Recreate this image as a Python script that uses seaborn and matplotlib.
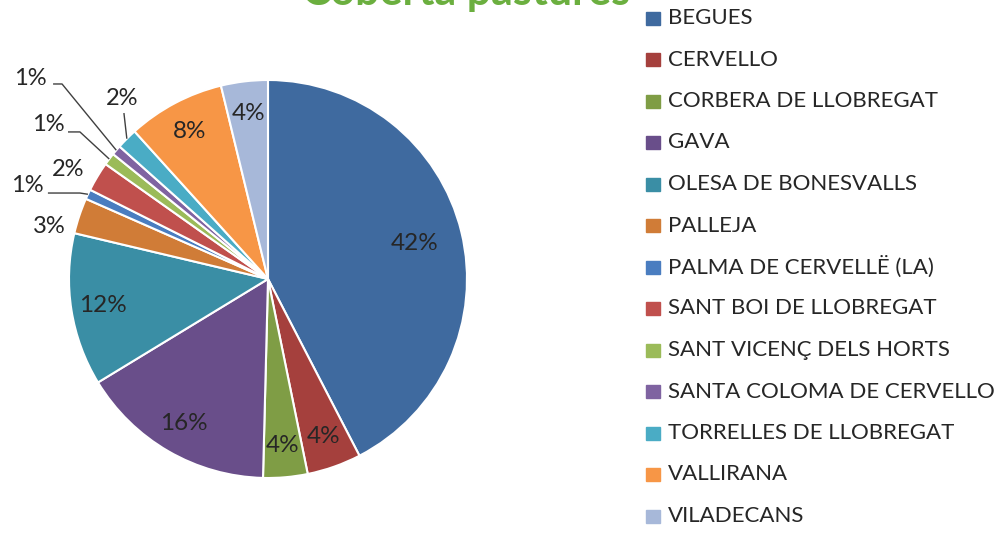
import numpy as np
import matplotlib
matplotlib.use("Agg")
import matplotlib.pyplot as plt
import seaborn as sns

sns.set_theme(style="white")
plt.rcParams['font.family'] = ['Lato', 'DejaVu Sans']

title = "Coberta pastures"
categories = ["BEGUES", "CERVELLO", "CORBERA DE LLOBREGAT", "GAVA", "OLESA DE BONESVALLS",
              "PALLEJA", "PALMA DE CERVELLË (LA)", "SANT BOI DE LLOBREGAT",
              "SANT VICENÇ DELS HORTS", "SANTA COLOMA DE CERVELLO",
              "TORRELLES DE LLOBREGAT", "VALLIRANA", "VILADECANS"]
values = [42.4, 4.4, 3.6, 15.9, 12.4, 2.9, 0.8, 2.4, 1.0, 0.8, 1.7, 7.9, 3.8]
colors = ["#3F6A9F", "#A5403D", "#7F9D45", "#694E8A", "#3A8EA5", "#D07C37", "#4A7DC0",
          "#C0504D", "#9BBB59", "#7F63A1", "#4AACC5", "#F79646", "#A7B8D9"]

# label placement (data coords of the unit pie) for small outside slices
outside = {
    5: dict(text=(-1.100, 0.266), line=None),
    6: dict(text=(-1.211, 0.472), line=[(-1.106, 0.432), (-0.945, 0.432)]),
    7: dict(text=(-1.005, 0.548), line=None),
    8: dict(text=(-1.106, 0.774), line=[(-1.005, 0.739), (-0.945, 0.739)]),
    9: dict(text=(-1.196, 1.010), line=[(-1.080, 0.980), (-1.035, 0.980)]),
    10: dict(text=(-0.734, 0.905), line=[(-0.724, 0.834)]),
}

W, H = 1003, 534
fig = plt.figure(figsize=(W / 100, H / 100), dpi=100)
cx, cy, R = 268, 279, 199
ax = fig.add_axes([(cx - R) / W, (H - cy - R) / H, 2 * R / W, 2 * R / H])

wedges, _ = ax.pie(values, colors=colors, startangle=90, counterclock=False,
                   wedgeprops=dict(edgecolor="white", linewidth=1.5))
ax.set_xlim(-1, 1)
ax.set_ylim(-1, 1)
ax.set_aspect("equal")

total = sum(values)
for i, w in enumerate(wedges):
    pct = values[i] / total * 100
    lab = f"{pct:.0f}%"
    mid = np.deg2rad((w.theta1 + w.theta2) / 2)
    if i in outside:
        tx, ty = outside[i]["text"]
        ax.text(tx, ty, lab, ha="center", va="center", fontsize=17, color="#262626")
        if outside[i]["line"] is not None:
            pts = outside[i]["line"] + [(np.cos(mid), np.sin(mid))]
            xs, ys = zip(*pts)
            ax.plot(xs, ys, color="#404040", lw=1, solid_capstyle="butt", clip_on=False)
    else:
        r = 0.76 if i == 0 else 0.84
        ax.text(r * np.cos(mid), r * np.sin(mid), lab, ha="center", va="center",
                fontsize=17.5, color="#262626")

# legend
lax = fig.add_axes([0, 0, 1, 1], facecolor="none")
lax.set_xlim(0, W)
lax.set_ylim(H, 0)
lax.axis("off")
y0, dy = 18, 41.5
for i, (c, name) in enumerate(zip(colors, categories)):
    y = y0 + i * dy
    lax.add_patch(plt.Rectangle((646, y - 6.5), 14, 13, color=c))
    lax.text(668, y, name, ha="left", va="center", fontsize=16, color="#262626")

fig.text(466 / W, 1 - 5 / H, title, ha="center", va="baseline", fontsize=31,
         fontweight="bold", color="#6BAF3F")

fig.savefig("out.png", dpi=100)
